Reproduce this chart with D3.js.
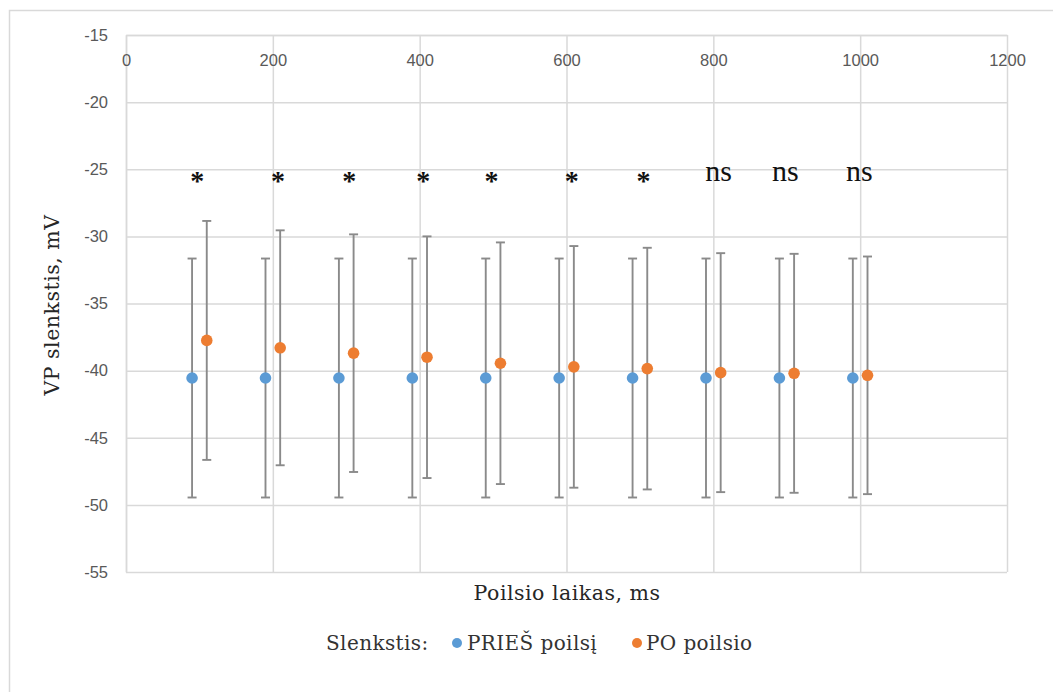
<!DOCTYPE html>
<html>
<head>
<meta charset="utf-8">
<script src="https://cdn.jsdelivr.net/npm/d3@7"></script>
<style>
  html, body { margin: 0; padding: 0; background: #fff; }
  svg { display: block; }
</style>
</head>
<body>
<svg id="chart" width="1053" height="692"></svg>
<script>
// Rest interval (ms) — the two series are drawn slightly offset on either side of each interval
const restTimes = [100, 200, 300, 400, 500, 600, 700, 800, 900, 1000];
const beforeX   = [90, 190, 290, 390, 490, 590, 690, 790, 890, 990];
const afterX    = [110, 210, 310, 410, 510, 610, 710, 810, 910, 1010];

// Threshold means (mV) and error half-widths
const beforeMean = [-40.55, -40.55, -40.55, -40.55, -40.55, -40.55, -40.55, -40.55, -40.55, -40.55];
const beforeErr  = [8.9, 8.9, 8.9, 8.9, 8.9, 8.9, 8.9, 8.9, 8.9, 8.9];
const afterMean  = [-37.75, -38.3, -38.7, -39.0, -39.45, -39.72, -39.85, -40.15, -40.2, -40.35];
const afterErr   = [8.9, 8.75, 8.85, 9.0, 9.0, 9.0, 9.0, 8.9, 8.9, 8.85];

// Significance marks above each pair
const sigLabels = ["*", "*", "*", "*", "*", "*", "*", "ns", "ns", "ns"];
const sigX      = [97, 207, 304, 405, 498, 607, 705, 807, 898, 999];

const xTicks = [0, 200, 400, 600, 800, 1000, 1200];
const yTicks = [-15, -20, -25, -30, -35, -40, -45, -50, -55];

const svg = d3.select("#chart");
const plot = { left: 126, right: 1007, top: 35, bottom: 572 };

const x = d3.scaleLinear().domain([0, 1200]).range([plot.left, plot.right]);
const y = d3.scaleLinear().domain([-55, -15]).range([plot.bottom, plot.top]);

// Plain hyphen for negative numbers
const fmt = d3.formatLocale({ decimal: ".", thousands: "", grouping: [3], currency: ["", ""], minus: "-" }).format("d");

const gridColor = "#d9d9d9";
const tickFont = "'Liberation Sans', Arial, sans-serif";
const serif = "'DejaVu Serif', serif";

// Outer chart frame
svg.append("rect")
  .attr("x", 9.5).attr("y", 10.5)
  .attr("width", 1100).attr("height", 800)
  .attr("fill", "none").attr("stroke", gridColor).attr("stroke-width", 1.5);

// Horizontal gridlines
svg.append("g")
  .attr("transform", `translate(${plot.left},0)`)
  .call(d3.axisLeft(y).tickValues(yTicks).tickSize(-(plot.right - plot.left)).tickFormat(""))
  .call(g => g.select(".domain").remove())
  .call(g => g.selectAll("line").attr("stroke", gridColor).attr("stroke-width", 1.5));

// Vertical gridlines
svg.append("g")
  .attr("transform", `translate(0,${plot.bottom})`)
  .call(d3.axisBottom(x).tickValues(xTicks).tickSize(-(plot.bottom - plot.top)).tickFormat(""))
  .call(g => g.select(".domain").remove())
  .call(g => g.selectAll("line").attr("stroke", gridColor).attr("stroke-width", 1.5));

// Y axis labels
svg.append("g")
  .attr("transform", `translate(${plot.left},0)`)
  .call(d3.axisLeft(y).tickValues(yTicks).tickSize(0).tickPadding(18).tickFormat(fmt))
  .call(g => g.select(".domain").attr("stroke", gridColor).attr("stroke-width", 1.5))
  .call(g => g.selectAll("text")
    .attr("fill", "#595959").style("font-family", tickFont).style("font-size", "16.5px"));

// X axis labels, crossing at the top of the value range
svg.append("g")
  .attr("transform", `translate(0,${plot.top})`)
  .call(d3.axisBottom(x).tickValues(xTicks).tickSize(0).tickPadding(19).tickFormat(fmt))
  .call(g => g.select(".domain").attr("stroke", gridColor).attr("stroke-width", 1.5))
  .call(g => g.selectAll("text")
    .attr("fill", "#595959").style("font-family", tickFont).style("font-size", "16.5px"));

// Error bars and markers
const series = [
  { xs: beforeX, mean: beforeMean, err: beforeErr, color: "#5b9bd5" },
  { xs: afterX,  mean: afterMean,  err: afterErr,  color: "#ed7d31" }
];

const barColor = "#8a8a8a";
const capHalf = 4.5;

series.forEach(s => {
  const rows = s.xs.map((xv, i) => ({ x: xv, m: s.mean[i], e: s.err[i] }));
  const g = svg.append("g");
  g.selectAll("line.stem").data(rows).join("line")
    .attr("x1", d => x(d.x)).attr("x2", d => x(d.x))
    .attr("y1", d => y(d.m + d.e)).attr("y2", d => y(d.m - d.e))
    .attr("stroke", barColor).attr("stroke-width", 1.9);
  g.selectAll("line.capTop").data(rows).join("line")
    .attr("x1", d => x(d.x) - capHalf).attr("x2", d => x(d.x) + capHalf)
    .attr("y1", d => y(d.m + d.e)).attr("y2", d => y(d.m + d.e))
    .attr("stroke", barColor).attr("stroke-width", 1.9);
  g.selectAll("line.capBot").data(rows).join("line")
    .attr("x1", d => x(d.x) - capHalf).attr("x2", d => x(d.x) + capHalf)
    .attr("y1", d => y(d.m - d.e)).attr("y2", d => y(d.m - d.e))
    .attr("stroke", barColor).attr("stroke-width", 1.9);
});

series.forEach(s => {
  svg.append("g").selectAll("circle")
    .data(s.xs.map((xv, i) => ({ x: xv, m: s.mean[i] })))
    .join("circle")
    .attr("cx", d => x(d.x)).attr("cy", d => y(d.m))
    .attr("r", 5.8).attr("fill", s.color);
});

// Significance annotations
svg.append("g").selectAll("text")
  .data(sigLabels.map((t, i) => ({ t, x: sigX[i] })))
  .join("text")
  .attr("x", d => x(d.x))
  .attr("y", d => d.t === "*" ? y(-25.5) + 14 : y(-25.9))
  .attr("text-anchor", "middle")
  .attr("fill", "#111")
  .style("font-family", "'Liberation Serif', 'Times New Roman', serif")
  .style("font-weight", d => d.t === "*" ? "bold" : "normal")
  .style("font-size", d => d.t === "*" ? "28px" : "30px")
  .text(d => d.t);

// Axis titles
svg.append("text")
  .attr("transform", `translate(59,${305}) rotate(-90)`)
  .attr("text-anchor", "middle")
  .attr("fill", "#262626")
  .style("font-family", serif).style("font-size", "20.5px").style("letter-spacing", "0.5px")
  .text("VP slenkstis, mV");

svg.append("text")
  .attr("x", 567).attr("y", 600)
  .attr("text-anchor", "middle")
  .attr("fill", "#262626")
  .style("font-family", serif).style("font-size", "20.5px").style("letter-spacing", "0.5px")
  .text("Poilsio laikas, ms");

// Legend
const legendY = 643;
const legend = svg.append("g")
  .style("font-family", serif).style("font-size", "20px").style("letter-spacing", "0.4px")
  .attr("fill", "#333");
legend.append("text").attr("x", 326).attr("y", legendY + 7).text("Slenkstis:");
const legendItems = [
  { label: "PRIEŠ poilsį", color: "#5b9bd5", dot: 457, text: 467 },
  { label: "PO poilsio",   color: "#ed7d31", dot: 637, text: 646 }
];
legendItems.forEach(it => {
  legend.append("circle").attr("cx", it.dot).attr("cy", legendY).attr("r", 5).attr("fill", it.color);
  legend.append("text").attr("x", it.text).attr("y", legendY + 7).text(it.label);
});
</script>
</body>
</html>
